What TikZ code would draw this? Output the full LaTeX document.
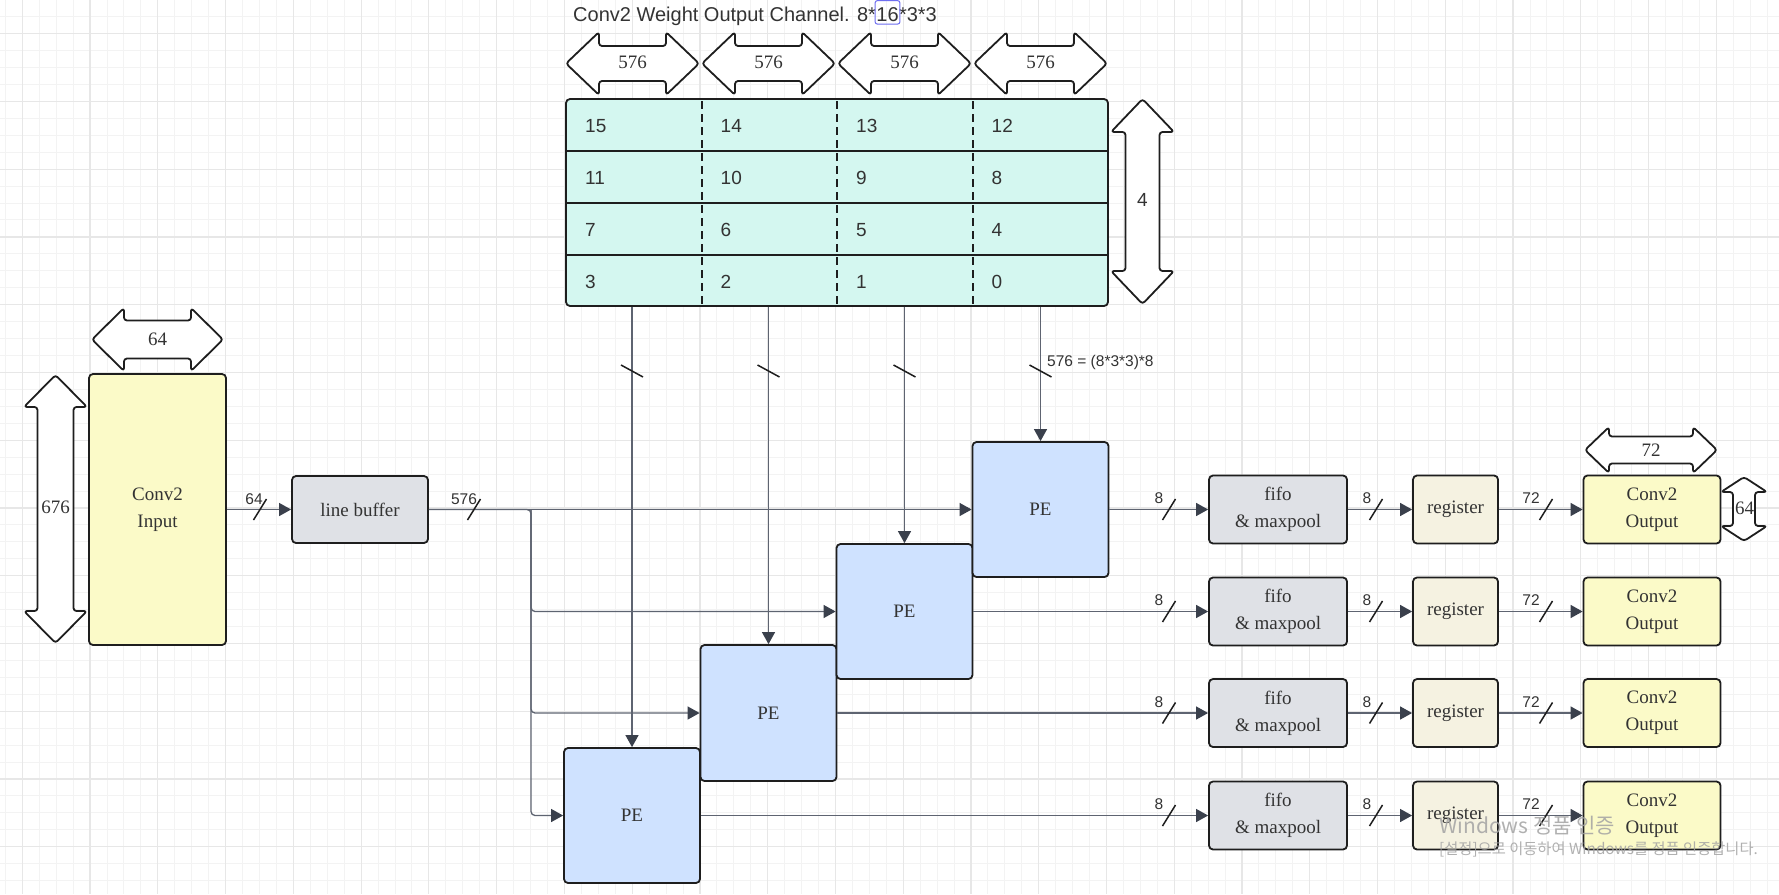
\documentclass[tikz,border=0pt]{standalone}
\usepackage{fontspec}
\setmainfont{Liberation Serif}
\newfontfamily\sansf{Liberation Sans}
\newfontfamily\krf{Noto Sans CJK KR}
\usetikzlibrary{arrows.meta}
\definecolor{mint}{HTML}{D4F7F0}
\definecolor{peblue}{HTML}{CFE2FF}
\definecolor{inyellow}{HTML}{FBFAC8}
\definecolor{lbgray}{HTML}{DFE1E6}
\definecolor{regbeige}{HTML}{F5F2E1}
\definecolor{boxline}{HTML}{1E1E1E}
\definecolor{wirec}{HTML}{5E6471}
\definecolor{arrowc}{HTML}{3A404C}
\definecolor{textc}{HTML}{333333}
\definecolor{gridminor}{HTML}{F3F3F3}
\definecolor{gridmajor}{HTML}{E7E7E7}
\definecolor{selblue}{HTML}{6E6EF0}
\definecolor{wmc}{HTML}{A3A3A3}
\newcommand\hdarrow[6]{\draw[dimarrow] (#1,#3) -- ({#1+#6},{#3-#4}) -- ({#1+#6},{#3-#5}) -- ({#2-#6},{#3-#5}) -- ({#2-#6},{#3-#4}) -- (#2,#3) -- ({#2-#6},{#3+#4}) -- ({#2-#6},{#3+#5}) -- ({#1+#6},{#3+#5}) -- ({#1+#6},{#3+#4}) -- cycle;}
\newcommand\vdarrow[6]{\draw[dimarrow] (#3,#1) -- ({#3-#4},{#1+#6}) -- ({#3-#5},{#1+#6}) -- ({#3-#5},{#2-#6}) -- ({#3-#4},{#2-#6}) -- (#3,#2) -- ({#3+#4},{#2-#6}) -- ({#3+#5},{#2-#6}) -- ({#3+#5},{#1+#6}) -- ({#3+#4},{#1+#6}) -- cycle;}
\tikzset{
  box/.style={draw=boxline, line width=1.8, rounded corners=4, text=textc, align=center, inner sep=0,
    font=\fontsize{19}{27}\selectfont},
  dimarrow/.style={draw=boxline, fill=white, line width=1.8, rounded corners=3, line join=round},
  wire/.style={draw=wirec, line width=1.3, -{Triangle[length=12pt,width=13pt,color=arrowc]}},
  plainwire/.style={draw=wirec, line width=1.3},
  slash/.style={draw=boxline, line width=1.5},
  lab/.style={font=\sansf\fontsize{15.5}{18}\selectfont, text=textc, inner sep=0},
  serlab/.style={font=\fontsize{19}{22}\selectfont, text=textc, inner sep=0},
  num/.style={font=\sansf\fontsize{19}{22}\selectfont, text=textc, inner sep=0, anchor=west},
}
\begin{document}
\begin{tikzpicture}[x=1pt,y=-1pt]
\useasboundingbox (0,0) rectangle (1779,894);
\fill[white] (0,0) rectangle (1779,894);
% grid
\foreach \i in {0,...,104} {\pgfmathsetmacro\gx{5.4+16.94*\i}\draw[gridminor, line width=1] (\gx,0) -- (\gx,894);}
\foreach \i in {0,...,53} {\pgfmathsetmacro\gy{-0.24+16.94*\i}\draw[gridminor, line width=1] (0,\gy) -- (1779,\gy);}
\foreach \i in {0,...,26} {\pgfmathsetmacro\gx{22.3+67.76*\i}\draw[gridmajor, line width=1.2] (\gx,0) -- (\gx,894);}
\foreach \i in {0,...,13} {\pgfmathsetmacro\gy{33.7+67.76*\i}\draw[gridmajor, line width=1.2] (0,\gy) -- (1779,\gy);}

% title
\node[anchor=base west, font=\sansf\fontsize{20}{24}\selectfont, text=textc, inner sep=0] (t1) at (573,21) {Conv2 Weight Output Channel. 8*};
\node[anchor=base west, font=\sansf\fontsize{20}{24}\selectfont, text=textc, inner sep=0] (t2) at (t1.base east) {16};
\node[anchor=base west, font=\sansf\fontsize{20}{24}\selectfont, text=textc, inner sep=0] (t3) at (t2.base east) {*3*3};
\draw[selblue, line width=1, rounded corners=2] ([xshift=-1pt]t2.west |- 0,24) rectangle ([xshift=1pt]t2.east |- 0,0.7);

% top dimension arrows 576
\hdarrow{566}{699}{63.5}{31.5}{17.5}{33}
\hdarrow{702}{835}{63.5}{31.5}{17.5}{33}
\hdarrow{838}{971}{63.5}{31.5}{17.5}{33}
\hdarrow{974}{1107}{63.5}{31.5}{17.5}{33}
\node[serlab] (d1) at (632.5,62) {576};
\node[serlab] (d2) at (768.5,62) {576};
\node[serlab] (d3) at (904.5,62) {576};
\node[serlab] (d4) at (1040.5,62) {576};

% weight table
\node[draw=boxline, line width=1.8, rounded corners=4, fill=mint, minimum width=542, minimum height=207, inner sep=0] (tbl) at (837,202.5) {};
\foreach \yy in {151,203,255} {\draw[boxline, line width=2] (566,\yy) -- (1108,\yy);}
\foreach \xx in {701.5,837,972.5} {\draw[boxline, line width=2, dash pattern=on 8 off 5] (\xx,101) -- (\xx,305);}
\foreach \r in {0,...,3} {
  \foreach \c in {0,...,3} {
    \pgfmathtruncatemacro\n{15-4*\r-\c}
    \pgfmathsetmacro\nx{566+19+135.5*\c}
    \pgfmathsetmacro\ny{126+52*\r}
    \node[num] (n\n) at (\nx,\ny) {\n};
  }
}

% right "4" arrow
\vdarrow{99}{304}{1142.5}{31.5}{17}{33}
\node[font=\sansf\fontsize{19}{22}\selectfont, text=textc, inner sep=0] (d4v) at (1142.5,200) {4};

% input
\node[box, fill=inyellow, minimum width=137, minimum height=271] (in) at (157.5,509.5) {Conv2\\Input};
\hdarrow{92}{223}{339.5}{31.5}{19}{32}
\node[serlab] (d64) at (157.5,339) {64};
\vdarrow{375}{643}{55.5}{31.5}{18}{32}
\node[serlab] (d676) at (55.5,507) {676};

% line buffer
\node[box, fill=lbgray, minimum width=136, minimum height=67] (lb) at (360,509.5) {line buffer};

% PEs
\node[box, fill=peblue, minimum width=136, minimum height=135] (pe1) at (632,815.5) {PE};
\node[box, fill=peblue, minimum width=136, minimum height=136] (pe2) at (768.5,713) {PE};
\node[box, fill=peblue, minimum width=136, minimum height=135] (pe3) at (904.5,611.5) {PE};
\node[box, fill=peblue, minimum width=136, minimum height=135] (pe4) at (1040.5,509.5) {PE};

% input -> line buffer
\draw[wire] (in.east) -- (lb.west);
\draw[slash] (260,509.5) ++(-6.5,10.5) -- ++(13,-21);
\node[lab] (l64) at (254,499) {64};

% line buffer -> PEs
\coordinate (split) at (531,509.5);
\draw[wire] (lb.east) -- (pe4.west);
\draw[wire, rounded corners=4] (lb.east) -- (split) |- (pe1.west);
\draw[wire, rounded corners=4] (split) |- (pe2.west);
\draw[wire, rounded corners=4] (split) |- (pe3.west);
\draw[slash] (474,509.5) ++(-6.5,10.5) -- ++(13,-21);
\node[lab] (l576) at (464,499) {576};

% weights -> PEs
\foreach \p in {1,...,4} {
  \draw[wire] (pe\p.north |- tbl.south) -- (pe\p.north);
  \draw[slash] (pe\p.north |- 0,371) ++(-11,-6) -- ++(22,12);
}
\node[lab, anchor=west] (lw) at (1047,362) {576 = (8*3*3)*8};

% output rows
\foreach \i/\y in {1/815.5,2/713,3/611.5,4/509.5} {
  \node[box, fill=lbgray, minimum width=138, minimum height=68] (fifo\i) at (1278,\y) {fifo\\\& maxpool};
  \node[box, fill=regbeige, minimum width=85, minimum height=68] (reg\i) at (1455.5,\y) {register};
  \node[box, fill=inyellow, minimum width=137, minimum height=68] (out\i) at (1652,\y) {Conv2\\Output};
  \draw[wire] (pe\i.east) -- (fifo\i.west);
  \draw[wire] (fifo\i.east) -- (reg\i.west);
  \draw[wire] (reg\i.east) -- (out\i.west);
  \draw[slash] (1169,\y) ++(-6.5,10.5) -- ++(13,-21);
  \draw[slash] (1376,\y) ++(-6.5,10.5) -- ++(13,-21);
  \draw[slash] (1546,\y) ++(-6.5,10.5) -- ++(13,-21);
  \node[lab] (la\i) at (1159,{\y-11}) {8};
  \node[lab] (lb\i) at (1367,{\y-11}) {8};
  \node[lab] (lc\i) at (1531,{\y-11}) {72};
}

% output dimension arrows
\hdarrow{1585}{1717}{450}{23}{13.5}{24}
\node[serlab] (d72) at (1651,450) {72};
\vdarrow{477}{541}{1744}{23}{11}{15}
\node[serlab] (d64o) at (1744.5,508.5) {64};

% watermark
\node[anchor=west, font=\krf\fontsize{21}{25}\selectfont, text=wmc, inner sep=0, opacity=0.85] (wm1) at (1439,826) {Windows 정품 인증};
\node[anchor=west, font=\krf\fontsize{15.3}{18}\selectfont, text=wmc, inner sep=0, opacity=0.85] (wm2) at (1439,849) {[설정]으로 이동하여 Windows를 정품 인증합니다.};
\end{tikzpicture}
\end{document}
